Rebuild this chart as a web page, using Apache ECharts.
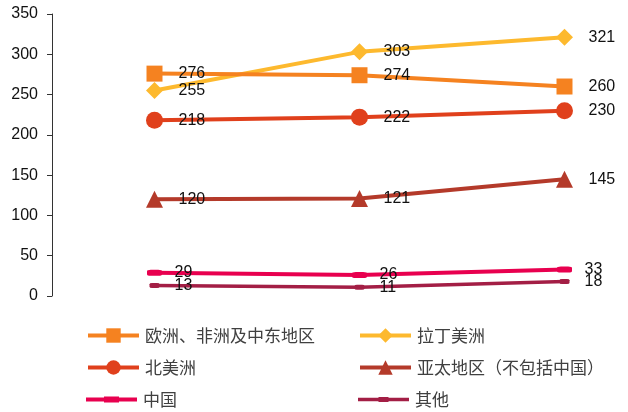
<!DOCTYPE html>
<html>
<head>
<meta charset="utf-8">
<script src="https://cdn.jsdelivr.net/npm/echarts@6/dist/echarts.min.js"></script>
<style>
  html, body { margin: 0; padding: 0; background: #fff; }
  #chart { width: 628px; height: 412px; }
</style>
</head>
<body>
<div id="chart"></div>
<script>
// Three periods along the horizontal axis (no visible labels)
const periods = ['P1', 'P2', 'P3'];

const seriesNames = [
  '欧洲、非洲及中东地区',
  '拉丁美洲',
  '北美洲',
  '亚太地区（不包括中国）',
  '中国',
  '其他'
];

const emeaValues = [276, 274, 260];
const latamValues = [255, 303, 321];
const northAmericaValues = [218, 222, 230];
const apacValues = [120, 121, 145];
const chinaValues = [29, 26, 33];
const otherValues = [13, 11, 18];

const yTicks = [0, 50, 100, 150, 200, 250, 300, 350];

const palette = ['#F58220', '#FDB92E', '#E0401C', '#B43A2A', '#E8004F', '#A31E45'];

const font = '"Liberation Sans", Arial, sans-serif';
const cjkFont = '"Noto Sans CJK SC", "Liberation Sans", sans-serif';

function lineSeries(idx, values, symbol, symbolSize, labelDistance, width) {
  return {
    name: seriesNames[idx],
    type: 'line',
    data: values,
    symbol: symbol,
    symbolSize: symbolSize,
    showAllSymbol: true,
    lineStyle: { color: palette[idx], width: width },
    itemStyle: { color: palette[idx] },
    label: {
      show: true,
      position: 'right',
      distance: labelDistance,
      color: '#111',
      fontFamily: font,
      fontSize: 16
    },
    animation: false,
    z: 10 - idx
  };
}

const series = [
  lineSeries(0, emeaValues, 'rect', 16, 16, 4),
  lineSeries(1, latamValues, 'diamond', 17, 15.5, 4),
  lineSeries(2, northAmericaValues, 'circle', 17, 15.5, 4),
  lineSeries(3, apacValues, 'triangle', 17, 15.5, 4),
  lineSeries(4, chinaValues, 'roundRect', [15, 6], 12.5, 4),
  lineSeries(5, otherValues, 'roundRect', [10, 5], 15, 3.5)
];

// Legend laid out as a fixed two-column grid
const legendSlots = [
  { left: 86, top: 327 },
  { left: 358, top: 327 },
  { left: 86, top: 359 },
  { left: 358, top: 359 },
  { left: 86, top: 391 },
  { left: 358, top: 391 }
];

// Line-with-pill icons for the two series drawn with flat markers
const pillIcons = [
  null, null, null, null,
  'path://M0,7H51V11H0Z M18,6H33V12H18Z',
  'path://M0,7.25H51V10.75H0Z M20.5,6.5H30.5V11.5H20.5Z'
];

const legends = seriesNames.map((name, i) => {
  const item = pillIcons[i] ? { name: name, icon: pillIcons[i] } : name;
  return {
    data: [item],
    left: legendSlots[i].left,
    top: legendSlots[i].top,
    itemWidth: 51,
    itemHeight: 18,
    itemGap: 0,
    padding: 0,
    selectedMode: false,
    lineStyle: { width: 4 },
    textStyle: { color: '#404040', fontSize: 17, fontFamily: cjkFont, padding: [0, 0, 0, 1] }
  };
});

const chart = echarts.init(document.getElementById('chart'), null, { renderer: 'canvas' });
chart.setOption({
  backgroundColor: '#fff',
  animation: false,
  grid: {
    left: 52, top: 14, width: 615, height: 282,
    containLabel: false,
    outerBoundsMode: 'none'
  },
  legend: legends,
  xAxis: {
    type: 'category',
    data: periods,
    boundaryGap: true,
    axisLine: { show: false },
    axisTick: { show: false },
    axisLabel: { show: false },
    splitLine: { show: false }
  },
  yAxis: {
    type: 'value',
    min: yTicks[0],
    max: yTicks[yTicks.length - 1],
    interval: 50,
    axisLine: { show: true, lineStyle: { color: '#333', width: 1 } },
    axisTick: { show: true, inside: false, length: 5, lineStyle: { color: '#333' } },
    axisLabel: { color: '#111', fontFamily: font, fontSize: 16, margin: 14 },
    splitLine: { show: false }
  },
  series: series
});
</script>
</body>
</html>
